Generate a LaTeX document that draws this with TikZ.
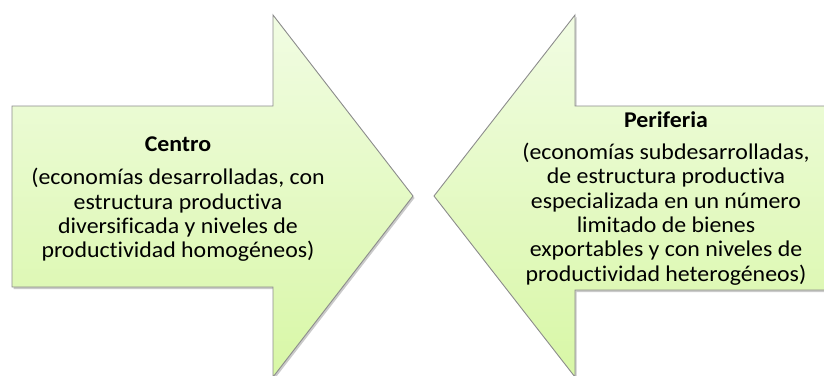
\documentclass[tikz,border=0pt]{standalone}
\usepackage{fontspec}
\setmainfont{Carlito}[Ligatures=NoCommon, FakeStretch=1.06]
\usepackage{tikz}
\usetikzlibrary{shadows}

\definecolor{flechatop}{HTML}{F1FCE3}
\definecolor{flechabot}{HTML}{D8F7A6}
\definecolor{borde}{HTML}{8C8C8C}

\begin{document}
\begin{tikzpicture}[x=1pt, y=-1pt,
    flecha/.style={draw=borde, line width=0.9pt, top color=flechatop, bottom color=flechabot,
      drop shadow={shadow xshift=1.5pt, shadow yshift=-2pt, opacity=0.35, fill=black!60}},
    titulo/.style={font=\fontsize{22.5}{24}\selectfont\bfseries, align=center, inner sep=0pt},
    texto/.style={font=\fontsize{22.5}{24.4}\selectfont, align=center, inner sep=0pt}]
    \useasboundingbox (0, 0) rectangle (824, 375);
    \path[flecha] (12, 106) -- (273, 106) -- (273, 15) -- (413, 196) -- (273, 377)
      -- (273, 287) -- (12, 287) -- cycle;
    \path[flecha] (434, 196) -- (575, 15) -- (575, 106) -- (830, 106) -- (830, 290)
      -- (575, 290) -- (575, 377) -- cycle;
    \node[titulo] (centro) at (178, 144) {Centro};
    \node[texto] (centrotxt) at (178, 215) {(economías desarrolladas, con\\
      estructura productiva\\ diversificada y niveles de\\ productividad homogéneos)};
    \node[titulo] (periferia) at (666, 120) {Periferia};
    \node[texto] (periferiatxt) at (666, 214) {(economías subdesarrolladas,\\
      de estructura productiva\\ especializada en un número\\ limitado de bienes\\
      exportables y con niveles de\\ productividad heterogéneos)};
\end{tikzpicture}
\end{document}
